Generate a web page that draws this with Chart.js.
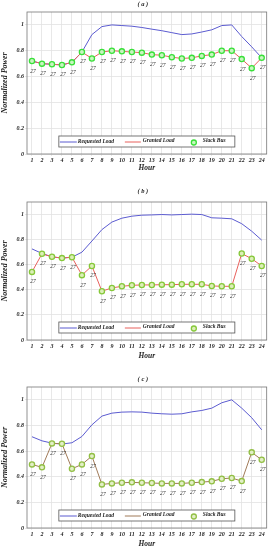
<!DOCTYPE html>
<html>
<head>
<meta charset="utf-8">
<script src="https://cdn.jsdelivr.net/npm/chart.js@4.4.1/dist/chart.umd.min.js"></script>
<style>
  body { margin: 0; background: #fff; width: 272px; height: 550px; overflow: hidden; }
  .panel { position: absolute; left: 0; width: 272px; }
</style>
</head>
<body>
<div class="panel" style="top:0;height:184px"><canvas id="chartA"></canvas></div>
<div class="panel" style="top:184px;height:183px"><canvas id="chartB"></canvas></div>
<div class="panel" style="top:367px;height:183px"><canvas id="chartC"></canvas></div>
<script>
const hours = [1, 2, 3, 4, 5, 6, 7, 8, 9, 10, 11, 12, 13, 14, 15, 16, 17, 18, 19, 20, 21, 22, 23, 24];
const yTicks = [0, 0.2, 0.4, 0.6, 0.8, 1];
const slackBus = [27, 27, 27, 27, 27, 27, 27, 27, 27, 27, 27, 27, 27, 27, 27, 27, 27, 27, 27, 27, 27, 27, 27, 27];

// (a)
const requestedA = [0.72, 0.70, 0.695, 0.69, 0.71, 0.79, 0.925, 0.987, 1.0, 0.995, 0.99, 0.98,
                    0.967, 0.955, 0.94, 0.925, 0.93, 0.945, 0.962, 0.995, 1.0, 0.91, 0.83, 0.745];
const grantedA = [0.72, 0.70, 0.695, 0.69, 0.71, 0.79, 0.74, 0.79, 0.80, 0.795, 0.79, 0.785,
                  0.77, 0.765, 0.75, 0.74, 0.745, 0.76, 0.77, 0.80, 0.80, 0.735, 0.665, 0.745];
// (b)
const requestedB = [0.726, 0.69, 0.663, 0.653, 0.66, 0.70, 0.789, 0.88, 0.94, 0.971, 0.987, 0.995,
                    0.997, 1.0, 0.997, 1.0, 1.003, 1.0, 0.974, 0.971, 0.966, 0.927, 0.867, 0.796];
const grantedB = [0.543, 0.687, 0.663, 0.653, 0.66, 0.517, 0.59, 0.389, 0.415, 0.428, 0.436, 0.439,
                  0.439, 0.441, 0.441, 0.444, 0.444, 0.444, 0.431, 0.428, 0.428, 0.689, 0.648, 0.59];
// (c)
const requestedC = [0.712, 0.68, 0.662, 0.655, 0.665, 0.714, 0.805, 0.873, 0.896, 0.904, 0.906, 0.904,
                    0.896, 0.891, 0.888, 0.891, 0.906, 0.917, 0.935, 0.977, 1.0, 0.935, 0.86, 0.766];
const grantedC = [0.496, 0.473, 0.66, 0.657, 0.462, 0.496, 0.561, 0.34, 0.348, 0.353, 0.356, 0.353,
                  0.351, 0.348, 0.348, 0.348, 0.353, 0.358, 0.364, 0.384, 0.39, 0.366, 0.59, 0.532];

const serif = "'Liberation Serif', 'DejaVu Serif', serif";

const panelPlugin = {
  id: 'panelDeco',
  afterDatasetsDraw(chart) {
    const o = chart.options.plugins.panelDeco;
    const ctx = chart.ctx;
    const a = chart.chartArea;
    const meta = chart.getDatasetMeta(2);
    ctx.save();
    // bus labels under slack points
    ctx.font = 'italic 5.5px ' + serif;
    ctx.fillStyle = '#333';
    ctx.textAlign = 'center';
    ctx.textBaseline = 'middle';
    meta.data.forEach(function(pt, i) {
      ctx.fillText(String(slackBus[i]), pt.x + 1, pt.y + 10);
    });
    // legend box
    const bw = 176, bh = 11;
    const bx = (a.left + a.right) / 2 - bw / 2;
    const by = a.bottom - 7 - bh;
    ctx.fillStyle = '#fff';
    ctx.fillRect(bx, by, bw, bh);
    ctx.strokeStyle = '#555';
    ctx.lineWidth = 0.8;
    ctx.strokeRect(bx, by, bw, bh);
    const ly = by + bh / 2;
    ctx.lineWidth = 1;
    ctx.strokeStyle = o.reqColor;
    ctx.beginPath(); ctx.moveTo(bx + 1, ly + 0.5); ctx.lineTo(bx + 18, ly + 0.5); ctx.stroke();
    ctx.strokeStyle = o.grantColor;
    ctx.beginPath(); ctx.moveTo(bx + 66, ly + 0.5); ctx.lineTo(bx + 82, ly + 0.5); ctx.stroke();
    ctx.strokeStyle = o.slackColor;
    ctx.fillStyle = o.slackFill;
    ctx.lineWidth = 1.3;
    ctx.beginPath(); ctx.arc(bx + 135, ly + 1, 2.5, 0, Math.PI * 2); ctx.fill(); ctx.stroke();
    ctx.fillStyle = '#222';
    ctx.font = 'bold italic 5.5px ' + serif;
    ctx.textAlign = 'left';
    ctx.fillText('Requested Load', bx + 19, ly);
    ctx.fillText('Granted Load', bx + 84, ly - 1);
    ctx.fillText('Slack Bus', bx + 144, ly - 1);
    // plot frame
    ctx.strokeStyle = '#777';
    ctx.lineWidth = 0.8;
    ctx.strokeRect(a.left, a.top, a.right - a.left, a.bottom - a.top);
    // panel title
    ctx.fillStyle = '#222';
    ctx.font = 'bold italic 6.5px ' + serif;
    ctx.textAlign = 'center';
    ctx.fillText(o.title, (a.left + a.right) / 2 - 4, a.top - o.titleGap);
    ctx.restore();
  }
};

function makeChart(id, title, requested, granted, style) {
  const toPoints = function(vals) { return hours.map(function(h, i) { return { x: h, y: vals[i] }; }); };
  return new Chart(document.getElementById(id), {
    type: 'line',
    data: {
      datasets: [
        { label: 'Requested Load', data: toPoints(requested), borderColor: style.reqColor,
          borderWidth: 1, pointRadius: 0, order: 2 },
        { label: 'Granted Load', data: toPoints(granted), borderColor: style.grantColor,
          borderWidth: 1, pointRadius: 0, order: 1 },
        { label: 'Slack Bus', data: toPoints(granted), showLine: false, pointRadius: 2.6,
          pointBorderWidth: 1.3, pointBorderColor: style.slackColor,
          pointBackgroundColor: style.slackFill, order: 0 }
      ]
    },
    options: {
      responsive: true,
      maintainAspectRatio: false,
      animation: false,
      layout: { padding: { left: 0, right: 4, top: style.plotTop, bottom: style.padBottom } },
      plugins: {
        legend: { display: false },
        tooltip: { enabled: false },
        panelDeco: { title: title, titleGap: style.titleGap, reqColor: style.reqColor,
          grantColor: style.grantColor, slackColor: style.slackColor, slackFill: style.slackFill }
      },
      scales: {
        x: {
          type: 'linear', min: 0.5, max: 24.5,
          afterBuildTicks: function(s) { s.ticks = hours.map(function(h) { return { value: h }; }); },
          afterFit: function(s) { s.height = style.xHeight; },
          grid: { color: '#e2e2e2', lineWidth: 0.8, tickLength: 2 },
          border: { display: false },
          ticks: { color: '#222', padding: 1, maxRotation: 0, autoSkip: false,
            font: { family: serif, size: 6, style: 'italic', weight: 'bold' } },
          title: { display: true, text: 'Hour', color: '#222', padding: { top: 1, bottom: 0 },
            font: { family: serif, size: 7.5, style: 'italic', weight: 'bold' } }
        },
        y: {
          min: 0, max: 1.1,
          afterBuildTicks: function(s) { s.ticks = yTicks.map(function(v) { return { value: v }; }); },
          afterFit: function(s) { s.width = 27; },
          grid: { color: '#e2e2e2', lineWidth: 0.8, tickLength: 2 },
          border: { display: false },
          ticks: { color: '#222', padding: 1,
            callback: function(v) { return String(Math.round(v * 10) / 10); },
            font: { family: serif, size: 6, style: 'italic', weight: 'bold' } },
          title: { display: true, text: 'Normalized Power', color: '#222', padding: { top: 0, bottom: 1 },
            font: { family: serif, size: 8, style: 'italic', weight: 'bold' } }
        }
      }
    },
    plugins: [panelPlugin]
  });
}

makeChart('chartA', '( a )', requestedA, grantedA, {
  reqColor: '#5b5bd0', grantColor: '#e8605c', slackColor: '#39e039', slackFill: '#c8f5c0',
  plotTop: 12, xHeight: 19, padBottom: 11, titleGap: 8
});
makeChart('chartB', '( b )', requestedB, grantedB, {
  reqColor: '#5b5bd0', grantColor: '#e8605c', slackColor: '#86c83a', slackFill: '#dcefb8',
  plotTop: 18, xHeight: 21, padBottom: 6, titleGap: 11
});
makeChart('chartC', '( c )', requestedC, grantedC, {
  reqColor: '#5b5bd0', grantColor: '#a07a58', slackColor: '#92bf45', slackFill: '#e2efc6',
  plotTop: 20, xHeight: 21, padBottom: 1, titleGap: 8
});
</script>
</body>
</html>
